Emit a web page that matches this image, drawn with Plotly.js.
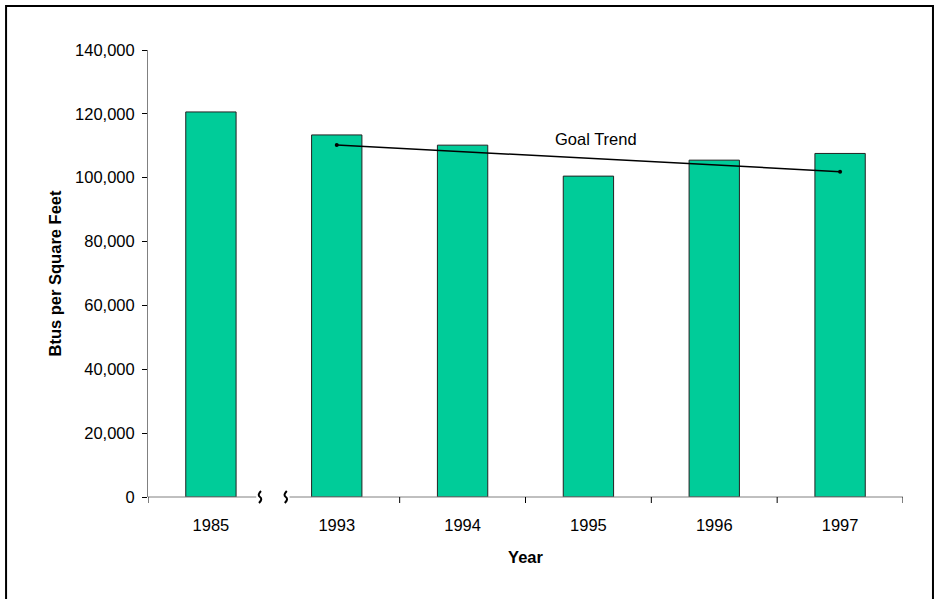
<!DOCTYPE html>
<html>
<head>
<meta charset="utf-8">
<script src="https://cdn.plot.ly/plotly-3.0.1.min.js"></script>
<style>html,body{margin:0;padding:0;background:#fff;}#chart{width:935px;height:599px;}</style>
</head>
<body>
<div id="chart"></div>
<script>
const years = ['1985', '1993', '1994', '1995', '1996', '1997'];
const btusPerSqFt = [120600, 113400, 110200, 100500, 105500, 107600];
const goalYears = ['1993', '1997'];
const goalValues = [110250, 101900];
const goalLabel = 'Goal Trend';
const yTickVals = [0, 20000, 40000, 60000, 80000, 100000, 120000, 140000];

const FONT = '"Liberation Sans", Arial, sans-serif';
const FS = 16.5;

const bars = {
  type: 'bar',
  x: years,
  y: btusPerSqFt,
  marker: {color: '#00CC99', line: {color: '#222', width: 1}},
  width: 0.4,
  hoverinfo: 'x+y',
  showlegend: false
};
const goal = {
  type: 'scatter',
  mode: 'lines+markers',
  x: goalYears,
  y: goalValues,
  line: {color: '#000', width: 1.5},
  marker: {color: '#000', size: 4},
  showlegend: false
};

const n = years.length;
const breakL = 0.39, breakR = 0.595;
const axisColor = '#808080';
const shapes = [
  {type: 'rect', xref: 'paper', yref: 'paper', x0: -0.188, x1: 1.0397, y0: -0.26, y1: 1.0984,
   line: {color: '#000', width: 2}, fillcolor: 'rgba(0,0,0,0)', layer: 'below'},
  {type: 'line', xref: 'x', yref: 'paper', x0: -0.5, x1: breakL - 0.03, y0: 0, y1: 0, line: {color: axisColor, width: 1}},
  {type: 'line', xref: 'x', yref: 'paper', x0: breakR + 0.03, x1: n - 0.5, y0: 0, y1: 0, line: {color: axisColor, width: 1}},
];
for (let i = 0; i <= n; i++) {
  if (i === 1) continue;
  shapes.push({type: 'line', xref: 'x', yref: 'paper', ysizemode: 'pixel', yanchor: 0,
    x0: i - 0.5, x1: i - 0.5, y0: 0, y1: -6, line: {color: '#000', width: 1}});
}
[breakL, breakR].forEach(xb => {
  shapes.push({type: 'path', xref: 'x', yref: 'paper', xsizemode: 'pixel', ysizemode: 'pixel',
    xanchor: xb, yanchor: 0,
    path: 'M 1 6 Q -3 2 0 0 Q 3 -2 -1 -6',
    line: {color: '#000', width: 2}});
});

const layout = {
  width: 935, height: 599,
  margin: {l: 148, r: 32, t: 50, b: 102, pad: 0},
  paper_bgcolor: '#fff', plot_bgcolor: '#fff',
  font: {family: FONT, size: FS, color: '#000'},
  bargap: 0.6,
  xaxis: {
    type: 'category',
    showline: false, showgrid: false, zeroline: false,
    ticks: '', tickfont: {family: FONT, size: FS},
    ticklabelstandoff: 16,
    range: [-0.5, n - 0.5],
    title: {text: 'Year', font: {family: FONT, size: FS, color: '#000', weight: 'bold'}, standoff: 18}
  },
  yaxis: {
    range: [0, 140000],
    tickvals: yTickVals,
    tickformat: ',',
    showline: true, linecolor: axisColor, linewidth: 1,
    showgrid: false, zeroline: false,
    ticks: 'outside', ticklen: 5, tickcolor: '#000',
    ticklabelstandoff: 4,
    tickfont: {family: FONT, size: FS},
    title: {text: 'Btus per Square Feet', font: {family: FONT, size: FS, color: '#000', weight: 'bold'}, standoff: 9}
  },
  shapes: shapes,
  annotations: [{
    xref: 'x', yref: 'y', x: 3.06, y: 112100, text: goalLabel, showarrow: false,
    font: {family: FONT, size: FS, color: '#000'}
  }]
};

Plotly.newPlot('chart', [bars, goal], layout, {displayModeBar: false, staticPlot: true});
</script>
</body>
</html>
